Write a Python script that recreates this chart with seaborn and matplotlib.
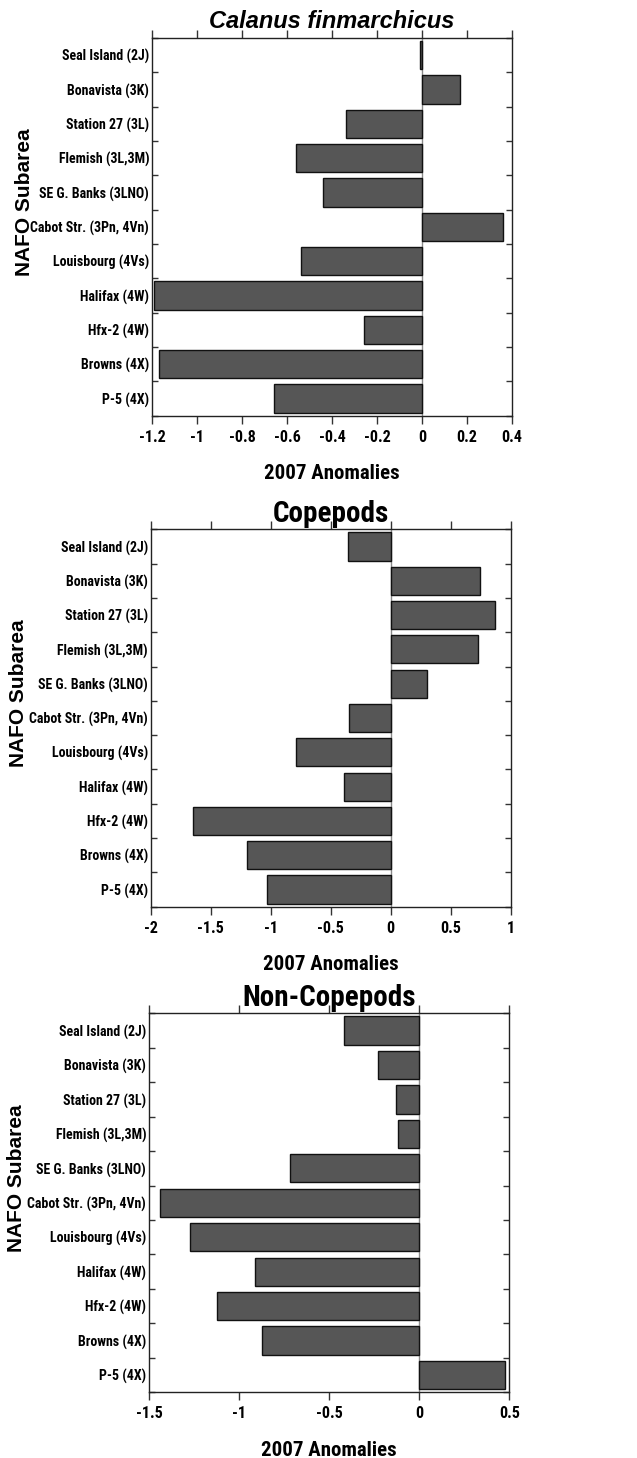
import matplotlib
matplotlib.use("Agg")
import matplotlib.pyplot as plt
from matplotlib.ticker import FixedLocator
import seaborn as sns
import pandas as pd

stations = ["Seal Island (2J)", "Bonavista (3K)", "Station 27 (3L)", "Flemish (3L,3M)",
            "SE G. Banks (3LNO)", "Cabot Str. (3Pn, 4Vn)", "Louisbourg (4Vs)",
            "Halifax (4W)", "Hfx-2 (4W)", "Browns (4X)", "P-5 (4X)"]

calanus = [-0.01, 0.17, -0.34, -0.56, -0.44, 0.36, -0.54, -1.19, -0.26, -1.17, -0.66]
copepods = [-0.36, 0.74, 0.87, 0.73, 0.30, -0.35, -0.79, -0.39, -1.65, -1.20, -1.03]
noncopepods = [-0.42, -0.23, -0.13, -0.12, -0.72, -1.44, -1.27, -0.91, -1.12, -0.87, 0.475]

titles = ["Calanus finmarchicus", "Copepods", "Non-Copepods"]
x_ticks_1 = [-1.2, -1, -0.8, -0.6, -0.4, -0.2, 0, 0.2, 0.4]
x_labels_1 = ["-1.2", "-1", "-0.8", "-0.6", "-0.4", "-0.2", "0", "0.2", "0.4"]
x_ticks_2 = [-2, -1.5, -1, -0.5, 0, 0.5, 1]
x_labels_2 = ["-2", "-1.5", "-1", "-0.5", "0", "0.5", "1"]
x_ticks_3 = [-1.5, -1, -0.5, 0, 0.5]
x_labels_3 = ["-1.5", "-1", "-0.5", "0", "0.5"]
x_label = "2007 Anomalies"
y_label = "NAFO Subarea"

sns.set_theme(style="white")
narrow = ["Roboto Condensed", "Liberation Sans", "DejaVu Sans"]
wide = ["Liberation Sans", "DejaVu Sans"]
plt.rcParams["font.family"] = narrow

W, H = 637, 1458
fig = plt.figure(figsize=(W / 100, H / 100), dpi=100)
fig.patch.set_facecolor("white")

# axes boxes in pixels: left, right, top, bottom
boxes = [(152, 512, 38, 415.7), (150.7, 510.7, 529.3, 906.7), (149, 509.3, 1013.3, 1392.3)]
ylabel_x = [34, 28, 26]
series = [calanus, copepods, noncopepods]
ticks = [(x_ticks_1, x_labels_1), (x_ticks_2, x_labels_2), (x_ticks_3, x_labels_3)]

for i, (box, vals, (xt, xl), title) in enumerate(zip(boxes, series, ticks, titles)):
    l, r, t, b = box
    ax = fig.add_axes([l / W, 1 - b / H, (r - l) / W, (b - t) / H])
    df = pd.DataFrame({"station": stations, "value": vals})
    ax.axvline(0, color="#8a8a8a", lw=1.0, zorder=0.5)
    sns.barplot(data=df, x="value", y="station", orient="h", color="#565656",
                saturation=1, edgecolor="#111111", linewidth=1.0, width=0.82, ax=ax,
                zorder=2)
    ax.set_xlim(xt[0], xt[-1])
    ax.set_ylim(len(stations) - 0.5, -0.5)
    ax.set_xticks(xt)
    ax.set_xticklabels(xl, fontsize=11.5, fontweight="bold", family=narrow, color="black")
    ax.tick_params(axis="x", which="major", direction="out", length=6, width=1,
                   color="#333333", top=True, bottom=True, labeltop=False, pad=4)
    ax.set_yticks(range(len(stations)))
    ax.set_yticklabels(stations, fontsize=10, fontweight="bold", family=narrow,
                       color="black")
    ax.tick_params(axis="y", which="major", length=0, pad=2)
    ax.yaxis.set_minor_locator(FixedLocator([k - 0.5 for k in range(len(stations) + 1)]))
    ax.tick_params(axis="y", which="minor", direction="in", length=4.5, width=1,
                   color="#333333", left=True, right=True)
    for s in ax.spines.values():
        s.set_visible(True)
        s.set_linewidth(1.0)
        s.set_color("#222222")
    ax.set_xlabel(x_label, fontsize=15, fontweight="bold", family=narrow, labelpad=14,
                  color="black")
    ax.set_ylabel(y_label, fontsize=15, fontweight="bold", family=wide, color="black")
    ax.yaxis.set_label_coords((ylabel_x[i] - l) / (r - l), 0.565)
    if i == 0:
        ax.set_title(title, fontsize=17, fontweight="bold", style="italic",
                     family=wide, pad=7, color="black")
    else:
        ax.set_title(title, fontsize=21, fontweight="bold", family=narrow, pad=5,
                     color="black")
    ax.grid(False)

fig.savefig("out.png", dpi=100, facecolor="white")
